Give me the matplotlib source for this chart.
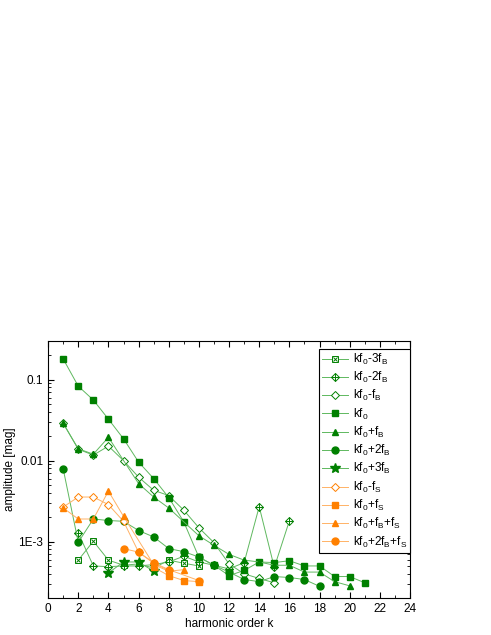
import matplotlib
matplotlib.use('Agg')
import matplotlib.pyplot as plt
from matplotlib.ticker import FixedLocator, LogLocator, NullFormatter, MultipleLocator, FuncFormatter
from matplotlib.legend_handler import HandlerTuple

plt.rcParams['font.family'] = ['Liberation Sans', 'DejaVu Sans']
plt.rcParams['mathtext.default'] = 'regular'

# harmonic order k and amplitudes [mag] for every peak family
k_m3fb = [2, 3, 4, 5, 6, 7, 8, 9, 10]
a_m3fb = [5.9e-4, 1.01e-3, 5.9e-4, 5.1e-4, 5.3e-4, 4.7e-4, 5.9e-4, 5.4e-4, 5.0e-4]

k_m2fb = [2, 3, 4, 5, 6, 7, 8, 9, 10, 11, 12, 13, 14, 15, 16]
a_m2fb = [1.28e-3, 5.0e-4, 4.9e-4, 5.0e-4, 5.0e-4, 5.2e-4, 5.6e-4, 6.6e-4, 5.6e-4,
          5.1e-4, 4.6e-4, 5.5e-4, 2.7e-3, 4.8e-4, 1.8e-3]

k_m1fb = [1, 2, 3, 4, 5, 6, 7, 8, 9, 10, 11, 12, 13, 14, 15]
a_m1fb = [0.029, 0.0138, 0.0117, 0.0151, 0.010, 0.00625, 0.0043, 0.0037, 0.00244,
          0.00148, 9.7e-4, 5.3e-4, 4.0e-4, 3.5e-4, 3.1e-4]

k_f0 = list(range(1, 22))
a_f0 = [0.18, 0.083, 0.056, 0.0325, 0.0186, 0.0096, 0.0060, 0.0035, 0.00175, 6.4e-4,
        5.1e-4, 3.8e-4, 4.4e-4, 5.6e-4, 5.5e-4, 5.8e-4, 5.0e-4, 5.0e-4, 3.7e-4, 3.7e-4, 3.1e-4]

k_p1fb = [1, 2, 3, 4, 6, 7, 8, 10, 11, 12, 13, 14, 15, 16, 17, 18, 19, 20]
a_p1fb = [0.0288, 0.014, 0.012, 0.0194, 0.0052, 0.00355, 0.0026, 0.00118, 9.0e-4,
          6.95e-4, 5.9e-4, 5.6e-4, 5.1e-4, 5.1e-4, 4.2e-4, 4.2e-4, 3.2e-4, 2.84e-4]

k_p2fb = list(range(1, 19))
a_p2fb = [0.0079, 9.8e-4, 0.0019, 0.00182, 0.00178, 0.00137, 0.00114, 8.2e-4, 7.5e-4,
          6.45e-4, 5.1e-4, 4.2e-4, 3.4e-4, 3.2e-4, 3.7e-4, 3.6e-4, 3.4e-4, 2.8e-4]

k_p3fb = [4, 5, 6, 7]
a_p3fb = [4.1e-4, 5.6e-4, 5.6e-4, 4.3e-4]

k_m1fs = [1, 2, 3, 4, 5, 6, 7, 8]
a_m1fs = [0.00267, 0.00355, 0.00355, 0.00286, 0.00178, 7.4e-4, 5.4e-4, 4.4e-4]

k_p1fs = [7, 8, 9, 10]
a_p1fs = [4.8e-4, 3.8e-4, 3.3e-4, 3.2e-4]

k_p1fbfs = [1, 2, 3, 4, 5, 7, 8, 9]
a_p1fbfs = [0.0026, 0.0019, 0.0019, 0.0042, 0.00205, 5.2e-4, 4.3e-4, 4.5e-4]

k_p2fbfs = [5, 6, 7, 8, 10]
a_p2fbfs = [8.2e-4, 7.4e-4, 5.5e-4, 4.5e-4, 3.3e-4]

green = '#008000'
lgreen = '#5fb85f'
orange = '#ff8000'
lorange = '#ffb266'


def main():
    fig = plt.figure(figsize=(4.91, 6.35), dpi=100)
    ax = fig.add_axes([0.098, 0.058, 0.737, 0.405])

    handles = []
    labels = []

    # open square with X
    l1, = ax.plot(k_m3fb, a_m3fb, ls='-', lw=0.7, color=lgreen, marker='s', ms=4.5,
                  mfc='white', mec=green, mew=0.7)
    l1b, = ax.plot(k_m3fb, a_m3fb, ls='none', marker='x', ms=3.5, mec=green, mew=0.7)
    handles.append((l1, l1b)); labels.append(r'kf$_0$-3f$_B$')

    # open diamond with +
    l2, = ax.plot(k_m2fb, a_m2fb, ls='-', lw=0.7, color=lgreen, marker='D', ms=4.5,
                  mfc='white', mec=green, mew=0.7)
    l2b, = ax.plot(k_m2fb, a_m2fb, ls='none', marker='+', ms=5.5, mec=green, mew=0.7)
    handles.append((l2, l2b)); labels.append(r'kf$_0$-2f$_B$')

    l3, = ax.plot(k_m1fb, a_m1fb, ls='-', lw=0.7, color=lgreen, marker='D', ms=4.5,
                  mfc='white', mec=green, mew=0.7)
    handles.append(l3); labels.append(r'kf$_0$-f$_B$')

    l4, = ax.plot(k_f0, a_f0, ls='-', lw=0.7, color=lgreen, marker='s', ms=4.5,
                  mfc=green, mec=green)
    handles.append(l4); labels.append(r'kf$_0$')

    l5, = ax.plot(k_p1fb, a_p1fb, ls='-', lw=0.7, color=lgreen, marker='^', ms=5,
                  mfc=green, mec=green)
    handles.append(l5); labels.append(r'kf$_0$+f$_B$')

    l6, = ax.plot(k_p2fb, a_p2fb, ls='-', lw=0.7, color=lgreen, marker='o', ms=5,
                  mfc=green, mec=green)
    handles.append(l6); labels.append(r'kf$_0$+2f$_B$')

    l7, = ax.plot(k_p3fb, a_p3fb, ls='-', lw=0.7, color=lgreen, marker='*', ms=7,
                  mfc=green, mec=green)
    handles.append(l7); labels.append(r'kf$_0$+3f$_B$')

    l8, = ax.plot(k_m1fs, a_m1fs, ls='-', lw=0.7, color=lorange, marker='D', ms=4.5,
                  mfc='white', mec=orange, mew=0.7)
    handles.append(l8); labels.append(r'kf$_0$-f$_S$')

    l9, = ax.plot(k_p1fs, a_p1fs, ls='-', lw=0.7, color=lorange, marker='s', ms=4.5,
                  mfc=orange, mec=orange)
    handles.append(l9); labels.append(r'kf$_0$+f$_S$')

    l10, = ax.plot(k_p1fbfs, a_p1fbfs, ls='-', lw=0.7, color=lorange, marker='^', ms=5,
                   mfc=orange, mec=orange)
    handles.append(l10); labels.append(r'kf$_0$+f$_B$+f$_S$')

    l11, = ax.plot(k_p2fbfs, a_p2fbfs, ls='-', lw=0.7, color=lorange, marker='o', ms=5,
                   mfc=orange, mec=orange)
    handles.append(l11); labels.append(r'kf$_0$+2f$_B$+f$_S$')

    ax.set_yscale('log')
    ax.set_xlim(0, 24)
    ax.set_ylim(2e-4, 0.3)
    ax.xaxis.set_major_locator(MultipleLocator(2))
    ax.xaxis.set_minor_locator(MultipleLocator(1))
    ax.yaxis.set_major_locator(FixedLocator([1e-3, 1e-2, 1e-1]))
    ax.yaxis.set_major_formatter(FuncFormatter(
        lambda v, p: {1e-3: '1E-3', 1e-2: '0.01', 1e-1: '0.1'}.get(round(v, 6), '')))
    ax.yaxis.set_minor_locator(LogLocator(base=10, subs=range(2, 10), numticks=20))
    ax.yaxis.set_minor_formatter(NullFormatter())
    ax.tick_params(which='both', direction='in', top=True, right=True, labelsize=8.5)
    ax.tick_params(which='major', length=4, width=0.8)
    ax.tick_params(which='minor', length=2.5, width=0.6)
    for s in ax.spines.values():
        s.set_linewidth(0.8)

    ax.set_xlabel('harmonic order k', fontsize=8.5, labelpad=2)
    ax.set_ylabel('amplitude [mag]', fontsize=8.5, labelpad=2)

    leg = ax.legend(handles, labels, loc='upper right', bbox_to_anchor=(1.0, 0.97),
                    borderaxespad=0, fontsize=8.5, fancybox=False, framealpha=1,
                    edgecolor='black', handlelength=2.2, handletextpad=0.4,
                    labelspacing=0.27, borderpad=0.25,
                    handler_map={tuple: HandlerTuple(ndivide=1)})
    leg.get_frame().set_linewidth(0.8)

    plt.savefig('out.png', dpi=100)
    plt.close()


if __name__ == '__main__':
    main()
